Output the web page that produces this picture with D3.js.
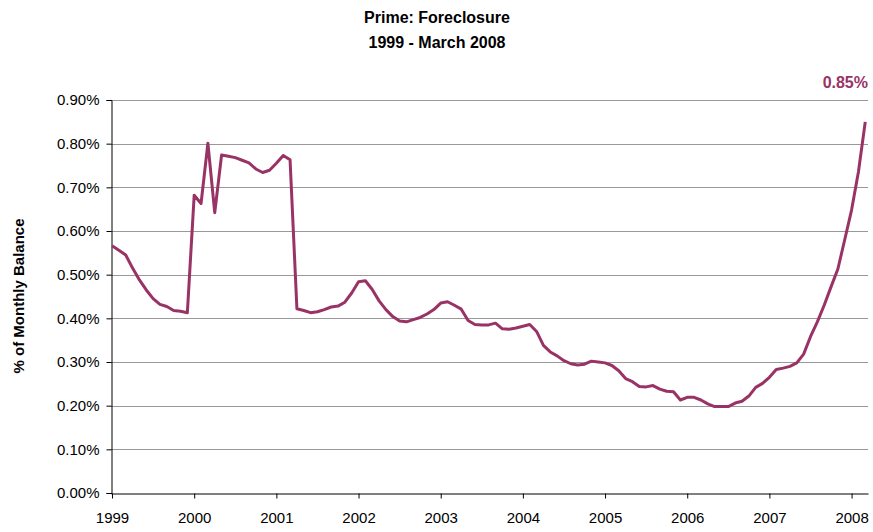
<!DOCTYPE html>
<html>
<head>
<meta charset="utf-8">
<script src="https://cdn.jsdelivr.net/npm/d3@7"></script>
<style>
body{margin:0;background:#fff;}
text{font-family:"Liberation Sans",Arial,sans-serif;}
</style>
</head>
<body>
<div id="chart"></div>
<script>
var w=873;
var h=532;
// monthly foreclosure rate, % of monthly balance
var years=["1999","2000","2001","2002","2003","2004","2005","2006","2007","2008"];
var v1999=[0.566,0.556,0.545,0.515,0.488,0.465,0.445,0.432,0.427,0.418,0.416,0.413];
var v2000=[0.682,0.663,0.801,0.642,0.774,0.771,0.768,0.762,0.756,0.742,0.734,0.739];
var v2001=[0.755,0.773,0.763,0.422,0.418,0.413,0.415,0.420,0.426,0.428,0.437,0.458];
var v2002=[0.484,0.486,0.466,0.440,0.420,0.404,0.394,0.392,0.397,0.402,0.410,0.420];
var v2003=[0.435,0.438,0.430,0.421,0.395,0.386,0.385,0.385,0.389,0.376,0.375,0.378];
var v2004=[0.382,0.386,0.370,0.338,0.323,0.314,0.303,0.296,0.293,0.295,0.302,0.300];
var v2005=[0.298,0.292,0.280,0.262,0.255,0.244,0.243,0.246,0.238,0.233,0.232,0.213];
var v2006=[0.219,0.219,0.213,0.204,0.198,0.198,0.198,0.206,0.210,0.222,0.242,0.251];
var v2007=[0.265,0.283,0.286,0.290,0.298,0.318,0.358,0.392,0.430,0.472,0.513,0.580];
var v2008=[0.648,0.735,0.850];
var yTicks=[0,0.1,0.2,0.3,0.4,0.5,0.6,0.7,0.8,0.9];
var lastLabel="0.85%";

var values=[].concat(v1999,v2000,v2001,v2002,v2003,v2004,v2005,v2006,v2007,v2008);
var data=values.map(function(v,i){return {m:i,v:v};});

var svg=d3.select("#chart")
  .append("svg")
  .attr("width",w)
  .attr("height",h);

var x=d3.scaleLinear().domain([-0.15,110.4]).range([111,868]);
var y=d3.scaleLinear().domain([0,0.9]).range([493,100]);
var purple="#993366";

// gridlines
svg.selectAll("line.grid")
   .data(yTicks.slice(1))
   .enter()
   .append("line")
   .attr("class","grid")
   .attr("x1",111)
   .attr("x2",868)
   .attr("y1",function(d){return Math.round(y(d))+0.5;})
   .attr("y2",function(d){return Math.round(y(d))+0.5;})
   .style("stroke","#999")
   .style("stroke-width",1);

// y axis
var yAxis=d3.axisLeft(y)
  .tickValues(yTicks)
  .tickSize(5)
  .tickPadding(7)
  .tickFormat(function(d){return d.toFixed(2)+"%";});
var gy=svg.append("g").attr("transform","translate(111.5,0)").call(yAxis);
gy.selectAll("text").style("font-size","15px").style("fill","#000");
gy.selectAll("line,path").style("stroke","#000");

// x axis
var xAxis=d3.axisBottom(x)
  .tickValues(years.map(function(d,i){return i*12;}))
  .tickSize(5)
  .tickSizeOuter(0)
  .tickPadding(14)
  .tickFormat(function(d){return years[d/12];});
var gx=svg.append("g").attr("transform","translate(0,493.5)").call(xAxis);
gx.selectAll("text").style("font-size","15px").style("fill","#000");
gx.selectAll("line,path").style("stroke","#000");

// series line
var line=d3.line()
  .x(function(d){return x(d.m);})
  .y(function(d){return y(d.v);});
svg.append("path")
   .datum(data)
   .attr("d",line)
   .style("fill","none")
   .style("stroke",purple)
   .style("stroke-width",3)
   .style("stroke-linejoin","round");

// end value label
svg.append("text")
   .attr("x",868)
   .attr("y",88)
   .attr("text-anchor","end")
   .style("font-size","16px")
   .style("font-weight","bold")
   .style("fill",purple)
   .text(lastLabel);

// titles
svg.append("text")
   .attr("x",437)
   .attr("y",23)
   .attr("text-anchor","middle")
   .style("font-size","16px")
   .style("font-weight","bold")
   .text("Prime: Foreclosure");
svg.append("text")
   .attr("x",437)
   .attr("y",48)
   .attr("text-anchor","middle")
   .style("font-size","16px")
   .style("font-weight","bold")
   .text("1999 - March 2008");

svg.append("text")
   .attr("transform","translate(24,296) rotate(-90)")
   .attr("text-anchor","middle")
   .style("font-size","15px")
   .style("font-weight","bold")
   .text("% of Monthly Balance");
</script>
</body>
</html>
